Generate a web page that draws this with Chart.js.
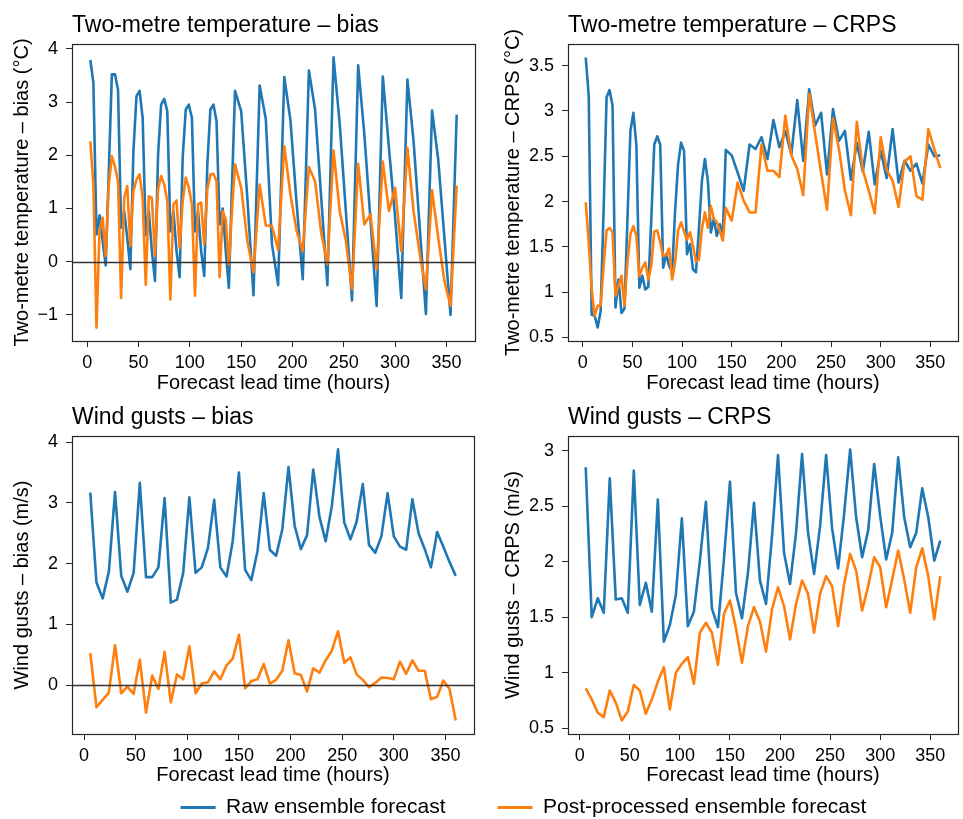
<!DOCTYPE html>
<html>
<head>
<meta charset="utf-8">
<script src="https://cdn.jsdelivr.net/npm/chart.js@4.4.1/dist/chart.umd.min.js"></script>
<style>
  body { margin: 0; background: #fff; }
  #wrap { position: relative; width: 963px; height: 819px; overflow: hidden; background: #fff; }
  canvas { position: absolute; }
</style>
</head>
<body>
<div id="wrap">
  <canvas id="tBias" width="481" height="400" style="left:0;top:0"></canvas>
  <canvas id="tCrps" width="482" height="400" style="left:481px;top:0"></canvas>
  <canvas id="wBias" width="481" height="390" style="left:0;top:400px"></canvas>
  <canvas id="wCrps" width="482" height="390" style="left:481px;top:400px"></canvas>
  <canvas id="legend" width="879" height="110" style="left:84px;top:745px"></canvas>
</div>
<script>
// lead times (hours)
const hoursT = [3,6,9,12,15,18,21,24,27,30,33,36,39,42,45,48,51,54,57,60,63,66,69,72,
  75,78,81,84,87,90,93,96,99,102,105,108,111,114,117,120,123,126,129,132,135,138,141,144,
  150,156,162,168,174,180,186,192,198,204,210,216,222,228,234,240,246,252,258,264,270,276,
  282,288,294,300,306,312,318,324,330,336,342,348,354,360];
const hoursW = [6,12,18,24,30,36,42,48,54,60,66,72,78,84,90,96,102,108,114,120,
  126,132,138,144,150,156,162,168,174,180,186,192,198,204,210,216,222,228,234,240,
  246,252,258,264,270,276,282,288,294,300,306,312,318,324,330,336,342,348,354,360];

// two-metre temperature bias (°C)
const tBiasRaw = [3.79,3.36,0.51,0.87,0.39,-0.07,1.7,3.52,3.52,3.23,0.64,0.95,0.45,-0.14,2.08,3.11,3.21,2.7,0.5,0.95,0.2,-0.36,2.0,2.95,
  3.06,2.83,0.57,0.95,0.2,-0.29,1.95,2.86,2.95,2.7,0.57,0.95,0.2,-0.27,1.82,2.86,2.95,2.64,0.7,1.0,0.2,-0.49,1.39,3.21,
  2.83,1.2,-0.63,3.31,2.68,0.33,-0.44,3.47,2.66,1.1,-0.33,3.59,2.86,1.2,-0.44,3.84,2.6,0.95,-0.73,3.69,2.4,0.78,
  -0.83,3.48,2.14,0.83,-0.68,3.42,2.26,0.64,-0.98,2.84,1.92,0.46,-1.0,2.76];
const tBiasPP = [2.26,1.45,-1.24,0.58,0.83,0.11,1.45,1.98,1.79,1.51,-0.68,1.2,1.42,0.29,1.33,1.54,1.64,1.2,-0.43,1.23,1.2,0.11,1.36,1.61,
  1.45,1.14,-0.71,1.08,1.15,0.26,1.14,1.58,1.39,1.08,-0.64,1.08,1.11,0.33,1.36,1.64,1.65,1.51,-0.29,0.95,0.79,-0.05,0.95,1.83,
  1.39,0.39,-0.2,1.45,0.68,0.67,0.22,2.17,1.26,0.58,0.2,1.78,1.51,0.54,-0.05,2.09,0.95,0.39,-0.52,1.84,0.7,0.89,
  -0.14,1.88,0.95,1.39,0.2,2.14,0.95,0.14,-0.52,1.34,0.45,-0.36,-0.83,1.43];

// two-metre temperature CRPS (°C)
const tCrpsRaw = [3.59,3.17,0.75,0.74,0.61,0.79,1.9,3.15,3.23,3.06,0.83,1.14,0.77,0.82,1.8,2.78,2.98,2.62,1.05,1.18,1.03,1.06,1.8,2.63,
  2.72,2.63,1.27,1.42,1.29,1.22,1.9,2.41,2.65,2.56,1.42,1.53,1.25,1.22,1.7,2.23,2.47,2.23,1.66,1.81,1.62,1.75,1.62,2.57,
  2.51,2.32,2.12,2.63,2.58,2.71,2.47,2.9,2.6,2.78,2.52,3.12,2.45,3.24,2.84,2.98,2.3,3.02,2.67,2.78,2.24,2.65,
  2.33,2.77,2.19,2.56,2.26,2.8,2.21,2.45,2.34,2.42,2.2,2.63,2.5,2.51];
const tCrpsPP = [1.99,1.55,1.03,0.74,0.85,0.85,1.29,1.68,1.71,1.66,0.96,1.07,1.18,0.85,1.33,1.64,1.73,1.62,1.18,1.27,1.33,1.14,1.29,1.67,
  1.68,1.55,1.4,1.41,1.48,1.14,1.33,1.68,1.77,1.67,1.58,1.66,1.51,1.34,1.36,1.7,1.88,1.71,1.95,1.81,1.77,1.68,1.57,1.93,
  1.79,2.21,2.01,1.88,1.88,2.63,2.34,2.34,2.27,2.95,2.51,2.36,2.07,3.19,2.75,2.32,1.91,2.92,2.58,2.12,1.85,2.88,
  2.35,2.12,1.87,2.71,2.35,2.23,1.94,2.44,2.5,2.06,2.02,2.8,2.58,2.37];

// wind gusts bias (m/s)
const wBiasRaw = [3.17,1.69,1.43,1.87,3.18,1.8,1.54,1.85,3.33,1.78,1.78,1.94,3.08,1.36,1.41,1.85,3.09,1.85,1.94,2.26,
  3.05,1.94,1.79,2.37,3.5,1.9,1.73,2.21,3.16,2.23,2.13,2.56,3.59,2.62,2.24,2.47,3.55,2.77,2.37,2.95,
  3.88,2.68,2.4,2.69,3.31,2.31,2.18,2.45,3.16,2.45,2.28,2.23,3.06,2.5,2.24,1.94,2.52,2.28,2.03,1.8];
const wBiasPP = [0.53,-0.36,-0.24,-0.12,0.66,-0.13,-0.02,-0.14,0.42,-0.45,0.16,-0.06,0.55,-0.28,0.18,0.1,0.64,-0.13,0.03,0.05,
  0.23,0.1,0.33,0.44,0.83,-0.05,0.07,0.1,0.35,0.03,0.09,0.24,0.74,0.2,0.17,-0.1,0.28,0.21,0.41,0.57,
  0.89,0.37,0.46,0.18,0.09,-0.03,0.04,0.13,0.12,0.1,0.39,0.19,0.41,0.24,0.24,-0.23,-0.19,0.08,-0.06,-0.58];

// wind gusts CRPS (m/s)
const wCrpsRaw = [2.85,1.5,1.67,1.54,2.75,1.66,1.67,1.54,2.82,1.61,1.81,1.55,2.56,1.28,1.43,1.7,2.39,1.42,1.55,2.01,
  2.54,1.58,1.41,2.02,2.72,1.72,1.49,1.9,2.53,1.83,1.62,2.23,2.96,2.08,1.8,2.26,2.97,2.26,1.89,2.32,
  2.96,2.3,1.94,2.43,3.01,2.4,2.04,2.28,2.88,2.41,2.02,2.26,2.94,2.4,2.13,2.26,2.66,2.4,2.01,2.19];
const wCrpsPP = [0.86,0.76,0.64,0.6,0.84,0.73,0.57,0.65,0.89,0.84,0.63,0.76,0.92,1.05,0.67,1.0,1.08,1.14,0.9,1.36,
  1.45,1.36,1.07,1.53,1.65,1.4,1.09,1.42,1.59,1.46,1.19,1.57,1.77,1.6,1.3,1.62,1.83,1.71,1.36,1.71,
  1.87,1.78,1.42,1.8,2.07,1.92,1.56,1.78,2.04,1.95,1.59,1.84,2.1,1.84,1.54,1.95,2.12,1.87,1.48,1.87];

const xTicks = [0, 50, 100, 150, 200, 250, 300, 350];
const yTicksTBias = [-1, 0, 1, 2, 3, 4];
const yTicksTCrps = [0.5, 1, 1.5, 2, 2.5, 3, 3.5];
const yTicksWBias = [0, 1, 2, 3, 4];
const yTicksWCrps = [0.5, 1, 1.5, 2, 2.5, 3];

const BLUE = '#1f77b4';
const ORANGE = '#ff7f0e';
const INK = '#262626';
const FONT = "'Liberation Sans', Arial, Helvetica, sans-serif";

Chart.defaults.font.family = FONT;
Chart.defaults.color = '#000';

const pts = (xs, ys) => xs.map((x, i) => ({ x: x, y: ys[i] }));
const fmt = v => (v < 0 ? '\u2212' + Math.abs(v) : String(v));

// panel title, left aligned with the plot area
const panelTitle = {
  id: 'panelTitle',
  afterDraw(chart, args, opts) {
    const { ctx, chartArea } = chart;
    ctx.save();
    ctx.font = '23px ' + FONT;
    ctx.fillStyle = '#000';
    ctx.textAlign = 'left';
    ctx.textBaseline = 'alphabetic';
    ctx.fillText(opts.text, chartArea.left, chartArea.top - 12);
    ctx.restore();
  }
};

// horizontal line at zero + box around the plot area
const frame = {
  id: 'frame',
  afterDatasetsDraw(chart, args, opts) {
    const { ctx, chartArea: a, scales } = chart;
    ctx.save();
    if (opts.zero) {
      const y = Math.round(scales.y.getPixelForValue(0)) + 0.5;
      ctx.strokeStyle = '#333';
      ctx.lineWidth = 1.3;
      ctx.beginPath();
      ctx.moveTo(a.left, y);
      ctx.lineTo(a.right, y);
      ctx.stroke();
    }
    ctx.strokeStyle = INK;
    ctx.lineWidth = 1.2;
    ctx.strokeRect(Math.round(a.left) + 0.5, Math.round(a.top) + 0.5,
      Math.round(a.right - a.left), Math.round(a.bottom - a.top));
    ctx.restore();
  }
};

function makePanel(id, c) {
  return new Chart(document.getElementById(id), {
    type: 'line',
    data: {
      datasets: [
        { label: 'Raw ensemble forecast', data: pts(c.x, c.raw), borderColor: BLUE, backgroundColor: BLUE,
          borderWidth: 2.6, pointRadius: 0, tension: 0, order: 2, borderJoinStyle: 'round' },
        { label: 'Post-processed ensemble forecast', data: pts(c.x, c.pp), borderColor: ORANGE, backgroundColor: ORANGE,
          borderWidth: 2.6, pointRadius: 0, tension: 0, order: 1, borderJoinStyle: 'round' }
      ]
    },
    options: {
      responsive: false,
      animation: false,
      events: [],
      layout: { padding: c.pad },
      plugins: {
        legend: { display: false },
        tooltip: { enabled: false },
        panelTitle: { text: c.title },
        frame: { zero: c.zero }
      },
      scales: {
        x: {
          type: 'linear', min: c.xmin, max: c.xmax,
          afterBuildTicks: s => { s.ticks = xTicks.map(v => ({ value: v })); },
          afterFit: s => { s.height = c.xh; },
          ticks: { autoSkip: false, maxRotation: 0, padding: 5, font: { size: 18 }, color: '#000' },
          grid: { drawOnChartArea: false, drawTicks: true, tickLength: 6, color: INK },
          border: { display: false },
          title: { display: true, text: 'Forecast lead time (hours)', font: { size: 20 }, color: '#000',
            padding: { top: 0, bottom: c.xtpb } }
        },
        y: {
          type: 'linear', min: c.ymin, max: c.ymax,
          afterBuildTicks: s => { s.ticks = c.yt.map(v => ({ value: v })); },
          afterFit: s => { s.width = c.yw; },
          ticks: { padding: 8, font: { size: 18 }, color: '#000', callback: fmt },
          grid: { drawOnChartArea: false, drawTicks: true, tickLength: 6, color: INK },
          border: { display: false },
          title: { display: true, text: c.ylabel, font: { size: 20 }, color: '#000',
            padding: { top: c.ytpt, bottom: 0 } }
        }
      }
    },
    plugins: [panelTitle, frame]
  });
}

makePanel('tBias', {
  x: hoursT, raw: tBiasRaw, pp: tBiasPP, title: 'Two-metre temperature \u2013 bias',
  ylabel: 'Two-metre temperature \u2013 bias (\u00b0C)', zero: true,
  xmin: -14.85, xmax: 377.85, ymin: -1.49, ymax: 4.09, yt: yTicksTBias,
  pad: { top: 44, right: 6, left: 0, bottom: 0 }, xh: 59, yw: 72, xtpb: 5, ytpt: 10
});
makePanel('tCrps', {
  x: hoursT, raw: tCrpsRaw, pp: tCrpsPP, title: 'Two-metre temperature \u2013 CRPS',
  ylabel: 'Two-metre temperature \u2013 CRPS (\u00b0C)', zero: false,
  xmin: -14.85, xmax: 377.85, ymin: 0.461, ymax: 3.739, yt: yTicksTCrps,
  pad: { top: 44, right: 5, left: 0, bottom: 0 }, xh: 59, yw: 87, xtpb: 5, ytpt: 20
});
makePanel('wBias', {
  x: hoursW, raw: wBiasRaw, pp: wBiasPP, title: 'Wind gusts \u2013 bias',
  ylabel: 'Wind gusts \u2013 bias (m/s)', zero: true,
  xmin: -11.7, xmax: 377.7, ymin: -0.8, ymax: 4.1, yt: yTicksWBias,
  pad: { top: 36, right: 7, left: 0, bottom: 0 }, xh: 56, yw: 72, xtpb: 3, ytpt: 10
});
makePanel('wCrps', {
  x: hoursW, raw: wCrpsRaw, pp: wCrpsPP, title: 'Wind gusts \u2013 CRPS',
  ylabel: 'Wind gusts \u2013 CRPS (m/s)', zero: false,
  xmin: -11.7, xmax: 377.7, ymin: 0.448, ymax: 3.132, yt: yTicksWCrps,
  pad: { top: 36, right: 5, left: 0, bottom: 0 }, xh: 56, yw: 87, xtpb: 3, ytpt: 20
});

// shared legend under the panels
new Chart(document.getElementById('legend'), {
  type: 'line',
  data: {
    datasets: [
      { label: 'Raw ensemble forecast', data: [], borderColor: BLUE, backgroundColor: BLUE },
      { label: 'Post-processed ensemble forecast', data: [], borderColor: ORANGE, backgroundColor: ORANGE }
    ]
  },
  options: {
    responsive: false,
    animation: false,
    events: [],
    layout: { padding: 0 },
    scales: { x: { display: false }, y: { display: false } },
    plugins: {
      tooltip: { enabled: false },
      legend: {
        display: true,
        position: 'top',
        maxHeight: 100,
        labels: {
          boxWidth: 35, boxHeight: 3, padding: 52, color: '#000', font: { size: 21 },
          generateLabels: chart => chart.data.datasets.map((d, i) => ({
            text: d.label, fillStyle: d.borderColor, strokeStyle: d.borderColor,
            lineWidth: 0, hidden: false, datasetIndex: i
          }))
        }
      }
    }
  }
});
</script>
</body>
</html>
